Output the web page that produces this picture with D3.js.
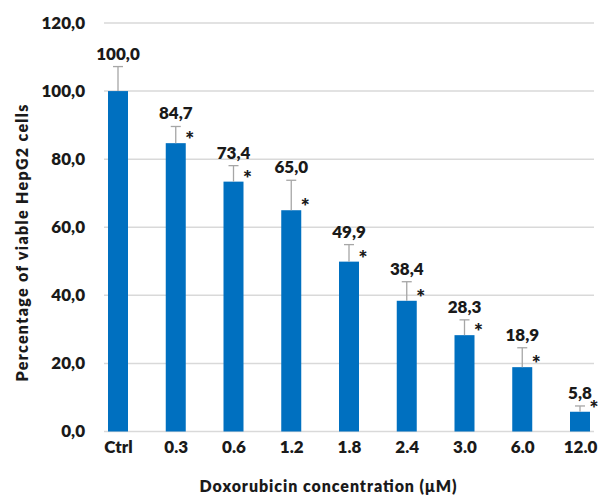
<!DOCTYPE html>
<html>
<head>
<meta charset="utf-8">
<script src="https://cdn.jsdelivr.net/npm/d3@7"></script>
<style>
  html, body { margin: 0; padding: 0; background: #ffffff; }
  svg { display: block; }
  text { font-family: Lato, "Open Sans", "Liberation Sans", sans-serif; font-weight: 800; fill: #1a1a1a; }
</style>
</head>
<body>
<svg id="chart" width="598" height="496"></svg>
<script>
// Cell viability of HepG2 cells after doxorubicin treatment
const categories = ["Ctrl", "0.3", "0.6", "1.2", "1.8", "2.4", "3.0", "6.0", "12.0"];
const viability  = [100.0, 84.7, 73.4, 65.0, 49.9, 38.4, 28.3, 18.9, 5.8];
const errorUp    = [7.2, 4.9, 4.7, 8.8, 5.0, 5.6, 4.5, 5.7, 1.7];
const significant = [false, true, true, true, true, true, true, true, true];
const yTicks = [0, 20, 40, 60, 80, 100, 120];

const fmt = v => d3.format(".1f")(v).replace(".", ",");

const svg = d3.select("#chart");
const gridLeft = 104, gridRight = 594;

const y = d3.scaleLinear().domain([0, 120]).range([431.5, 23]);
const x = d3.scalePoint().domain(categories).range([118, 580]);
const barW = 20;

// horizontal gridlines (the zero line doubles as the category axis)
svg.append("g").selectAll("line").data(yTicks).join("line")
  .attr("x1", gridLeft).attr("x2", gridRight)
  .attr("y1", d => y(d)).attr("y2", d => y(d))
  .attr("stroke", "#d9d9d9").attr("stroke-width", 1.5);

// y axis tick labels
const yAxis = d3.axisLeft(y).tickValues(yTicks).tickFormat(fmt).tickSize(0).tickPadding(0);
const gy = svg.append("g").attr("transform", "translate(85,0)").call(yAxis);
gy.select(".domain").remove();
gy.selectAll("text").attr("font-size", 17).attr("fill", "#1a1a1a")
  .style("font-family", "Lato, 'Open Sans', sans-serif").style("font-weight", 800);

// x axis tick labels
const xAxis = d3.axisBottom(x).tickSize(0).tickPadding(0);
const gx = svg.append("g").attr("transform", "translate(0,441)").call(xAxis);
gx.select(".domain").remove();
gx.selectAll("text").attr("font-size", 17).attr("fill", "#1a1a1a")
  .attr("dy", "0.71em")
  .style("font-family", "Lato, 'Open Sans', sans-serif").style("font-weight", 800);

const data = categories.map((c, i) => ({ c, v: viability[i], e: errorUp[i], s: significant[i] }));

// bars
svg.append("g").selectAll("rect").data(data).join("rect")
  .attr("x", d => x(d.c) - barW / 2)
  .attr("width", barW)
  .attr("y", d => y(d.v))
  .attr("height", d => y(0) - y(d.v))
  .attr("fill", "#0070c0");

// upper error bars
const eb = svg.append("g").attr("stroke", "#a6a6a6").attr("stroke-width", 1.3);
eb.selectAll("line.v").data(data).join("line").attr("class", "v")
  .attr("x1", d => x(d.c)).attr("x2", d => x(d.c))
  .attr("y1", d => y(d.v)).attr("y2", d => y(d.v + d.e));
eb.selectAll("line.cap").data(data).join("line").attr("class", "cap")
  .attr("x1", d => x(d.c) - 5).attr("x2", d => x(d.c) + 5)
  .attr("y1", d => y(d.v + d.e)).attr("y2", d => y(d.v + d.e));

// value labels above the error bars
svg.append("g").selectAll("text").data(data).join("text")
  .attr("x", d => x(d.c))
  .attr("y", d => y(d.v + d.e) - 7)
  .attr("text-anchor", "middle")
  .attr("font-size", 17)
  .text(d => fmt(d.v));

// significance markers
svg.append("g").selectAll("text").data(data.filter(d => d.s)).join("text")
  .attr("x", d => x(d.c) + barW / 2 + 4)
  .attr("y", d => y(d.v) + 4)
  .attr("text-anchor", "middle")
  .attr("font-size", 21)
  .text("*");

// axis titles
svg.append("text")
  .attr("transform", "translate(28,243) rotate(-90)")
  .attr("text-anchor", "middle")
  .attr("font-size", 16)
  .attr("textLength", 277).attr("lengthAdjust", "spacing")
  .text("Percentage of viable HepG2 cells");

svg.append("text")
  .attr("x", 328).attr("y", 491.5)
  .attr("text-anchor", "middle")
  .attr("font-size", 16)
  .attr("textLength", 257).attr("lengthAdjust", "spacing")
  .text("Doxorubicin concentration (μM)");
</script>
</body>
</html>
